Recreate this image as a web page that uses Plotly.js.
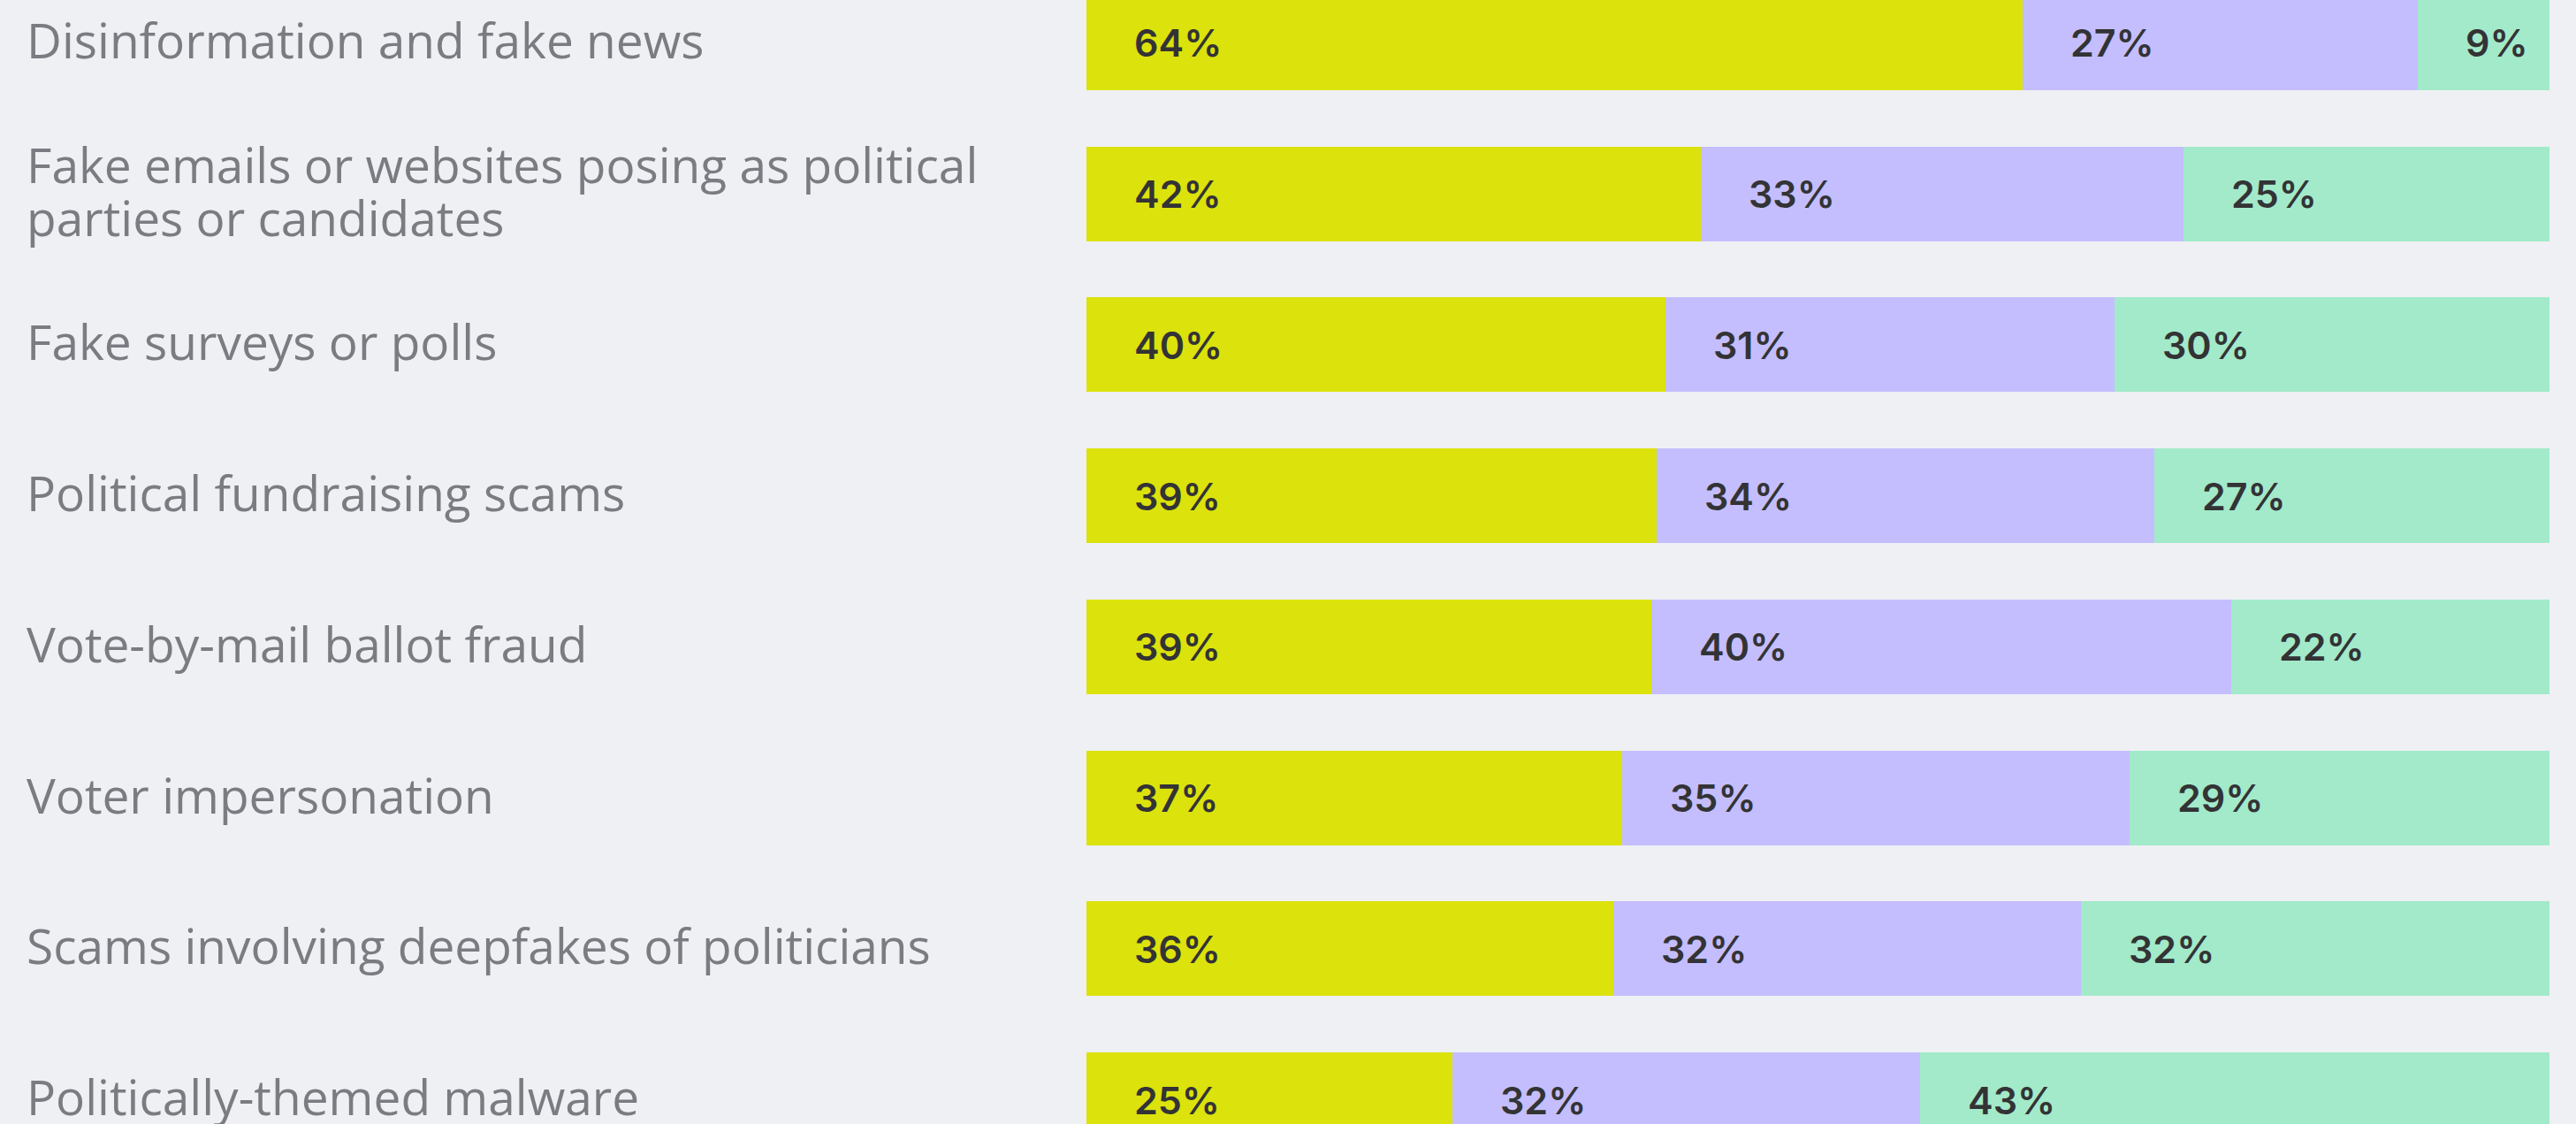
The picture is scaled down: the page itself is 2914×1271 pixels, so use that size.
<!DOCTYPE html>
<html>
<head>
<meta charset="utf-8">
<script src="https://cdn.plot.ly/plotly-3.0.1.min.js"></script>
<style>
html,body{margin:0;padding:0;background:#eff0f4;}
#chart{width:2914px;height:1271px;}
</style>
</head>
<body>
<div id="chart"></div>
<script>
const categories = [
  "Disinformation and fake news",
  "Fake emails or websites posing as political<br>parties or candidates",
  "Fake surveys or polls",
  "Political fundraising scams",
  "Vote-by-mail ballot fraud",
  "Voter impersonation",
  "Scams involving deepfakes of politicians",
  "Politically-themed malware"
];
const seriesA = [64, 42, 40, 39, 39, 37, 36, 25];
const seriesB = [27, 33, 31, 34, 40, 35, 32, 32];
const seriesC = [9, 25, 30, 27, 22, 29, 32, 43];
const seriesNames = ["Series A", "Series B", "Series C"];
const colors = ["#dce20c", "#c4befe", "#a2eaca"];

const series = [seriesA, seriesB, seriesC];
const traces = series.map((vals, i) => ({
  type: "bar",
  orientation: "h",
  name: seriesNames[i],
  y: categories,
  x: vals,
  marker: {color: colors[i], line: {width: 0}},
  hoverinfo: "skip"
}));

const annotations = [];
const lineStep = 60;
categories.forEach((cat, r) => {
  const total = series.reduce((s, arr) => s + arr[r], 0);
  let cum = 0;
  series.forEach((arr) => {
    annotations.push({
      x: cum, y: cat, xref: "x", yref: "y",
      text: arr[r] + "%", showarrow: false,
      xanchor: "left", yanchor: "middle", xshift: 52,
      font: {family: "Inter, 'Open Sans', sans-serif", size: 43, color: "#333335", weight: 600}
    });
    cum += arr[r] / total * 100;
  });
  const lines = cat.split("<br>");
  lines.forEach((ln, j) => {
    annotations.push({
      x: 0, y: cat, xref: "paper", yref: "y",
      text: ln, showarrow: false, align: "left",
      xanchor: "left", yanchor: "middle", xshift: -1201,
      yshift: 4 + ((lines.length - 1) / 2 - j) * lineStep,
      font: {family: "'Open Sans', 'Noto Sans', sans-serif", size: 55, color: "#7b7c82"}
    });
  });
});

const layout = {
  width: 2914, height: 1271,
  margin: {l: 1229, r: 30, t: 0, b: 0, pad: 0},
  paper_bgcolor: "#eff0f4",
  plot_bgcolor: "#eff0f4",
  barmode: "stack",
  barnorm: "percent",
  bargap: 0.373,
  showlegend: false,
  xaxis: {range: [0, 100], visible: false, fixedrange: true},
  yaxis: {type: "category", categoryarray: categories, range: [7.161, -0.284],
          showticklabels: false, showgrid: false, zeroline: false, showline: false, ticks: ""},
  annotations: annotations
};

Plotly.newPlot("chart", traces, layout, {displayModeBar: false, staticPlot: true});
</script>
</body>
</html>
